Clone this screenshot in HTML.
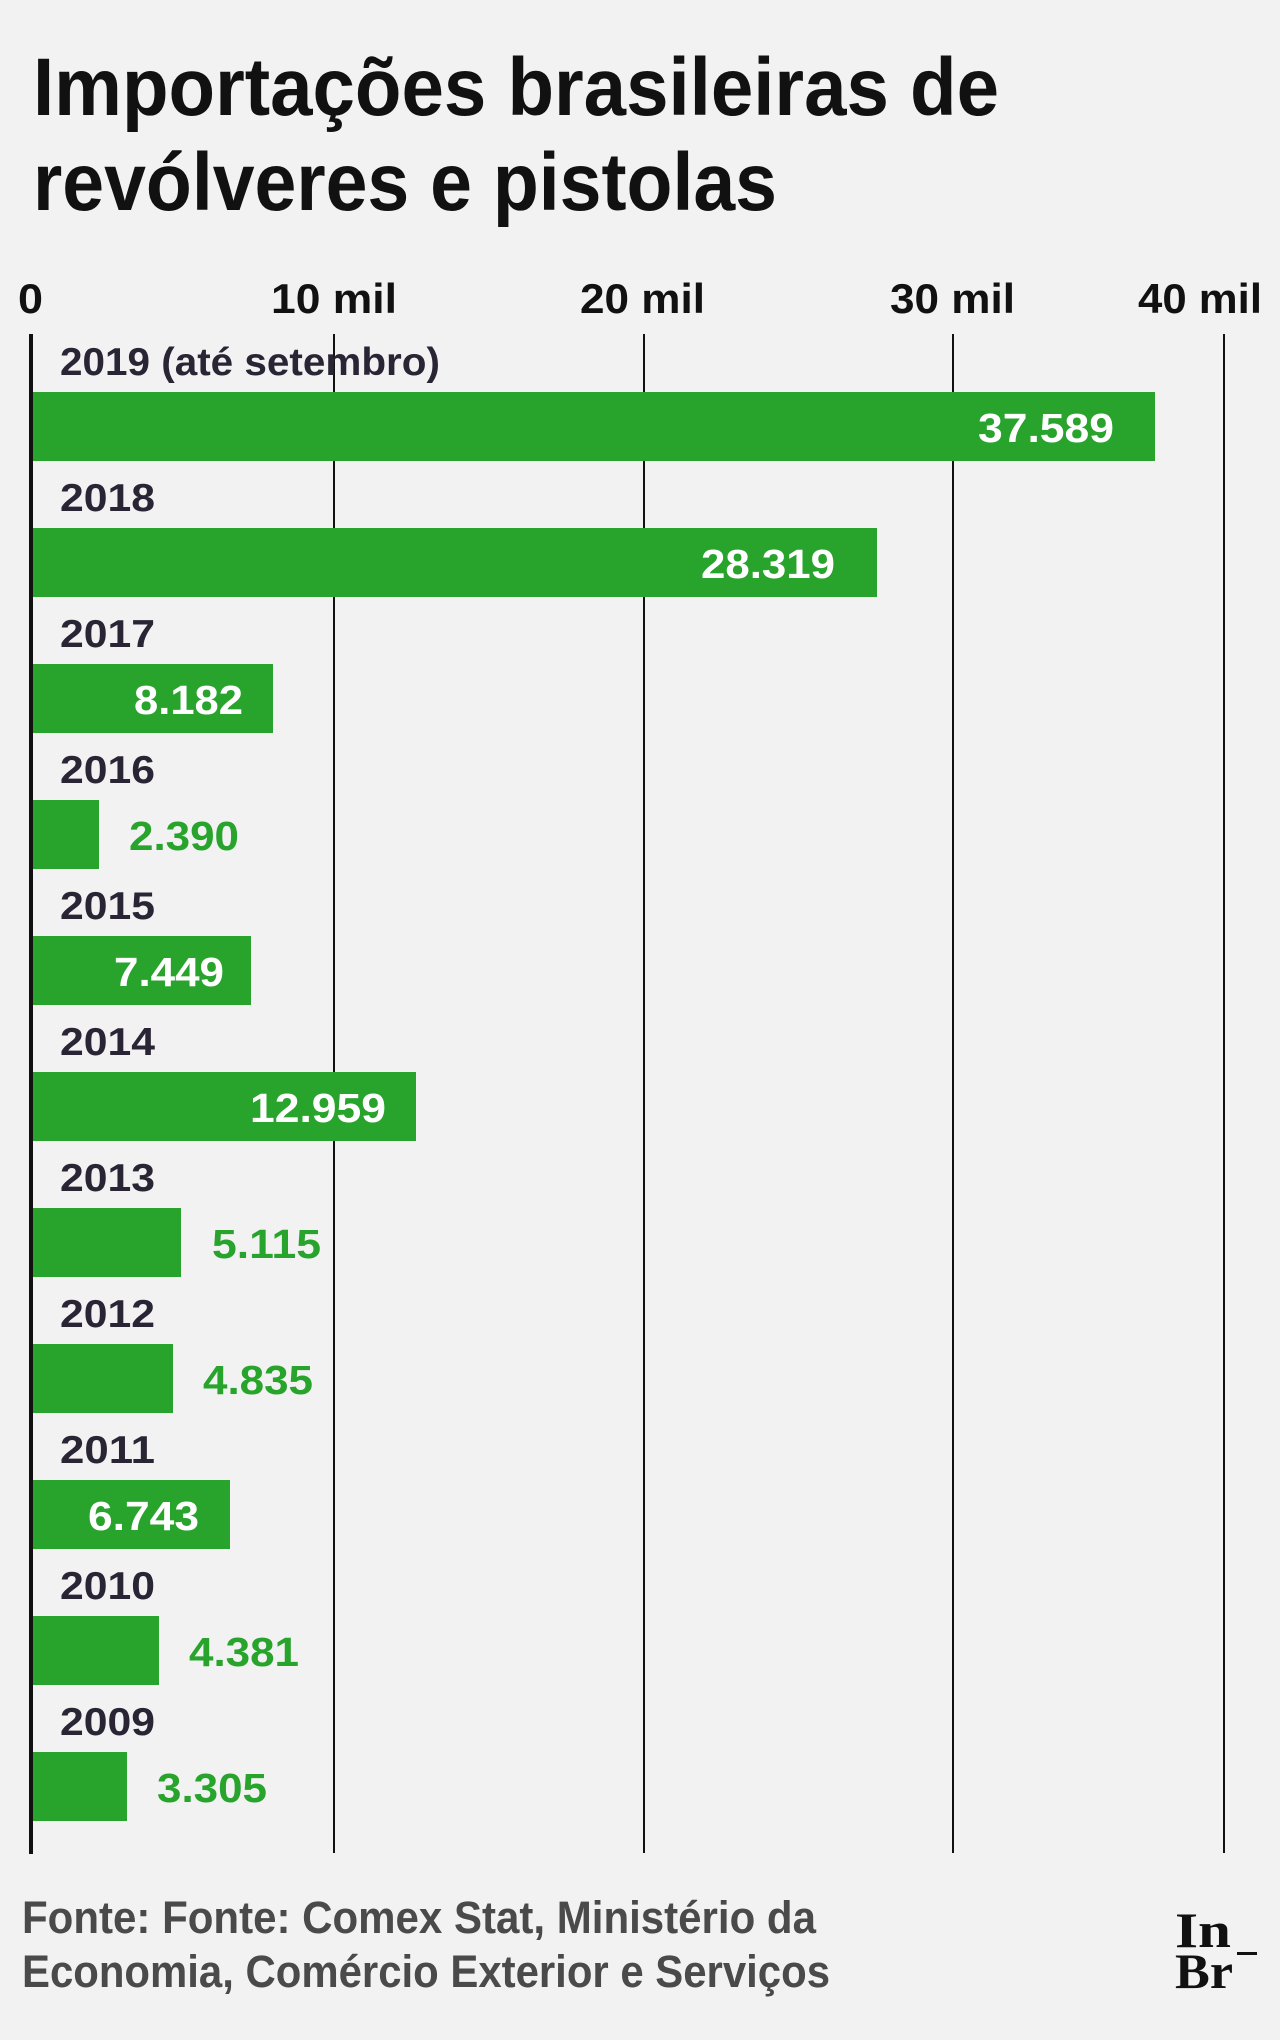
<!DOCTYPE html>
<html><head><meta charset="utf-8"><style>
html,body{margin:0;padding:0;background:#f2f2f2}
svg{display:block}
text{font-family:"Liberation Sans",sans-serif;font-weight:bold}
.m{font-family:"DejaVu Sans Mono","Liberation Mono",monospace;font-weight:bold}
</style></head><body>
<svg width="1280" height="2040" viewBox="0 0 1280 2040" xmlns="http://www.w3.org/2000/svg">
<rect width="1280" height="2040" fill="#f2f2f2"/>
<text x="33" y="115" font-size="82" fill="#111" textLength="966" lengthAdjust="spacingAndGlyphs">Importações brasileiras de</text>
<text x="33" y="210" font-size="82" fill="#111" textLength="744" lengthAdjust="spacingAndGlyphs">revólveres e pistolas</text>
<g font-size="42" fill="#111">
<text x="18" y="313" textLength="25" lengthAdjust="spacingAndGlyphs">0</text>
<text x="271" y="313" textLength="126" lengthAdjust="spacingAndGlyphs">10 mil</text>
<text x="580" y="313" textLength="125" lengthAdjust="spacingAndGlyphs">20 mil</text>
<text x="890" y="313" textLength="125" lengthAdjust="spacingAndGlyphs">30 mil</text>
<text x="1138" y="313" textLength="124" lengthAdjust="spacingAndGlyphs">40 mil</text>
</g>
<g stroke="#111" stroke-width="2">
<line x1="334" y1="334" x2="334" y2="1853"/>
<line x1="644" y1="334" x2="644" y2="1853"/>
<line x1="953" y1="334" x2="953" y2="1853"/>
<line x1="1224" y1="334" x2="1224" y2="1853"/>
</g>
<line x1="31" y1="334" x2="31" y2="1854" stroke="#111" stroke-width="4"/>
<g fill="#28a32c">
<rect x="33" y="392" width="1122" height="69"/>
<rect x="33" y="528" width="844" height="69"/>
<rect x="33" y="664" width="240" height="69"/>
<rect x="33" y="800" width="66" height="69"/>
<rect x="33" y="936" width="218" height="69"/>
<rect x="33" y="1072" width="383" height="69"/>
<rect x="33" y="1208" width="148" height="69"/>
<rect x="33" y="1344" width="140" height="69"/>
<rect x="33" y="1480" width="197" height="69"/>
<rect x="33" y="1616" width="126" height="69"/>
<rect x="33" y="1752" width="94" height="69"/>
</g>
<g font-size="39" fill="#2a2535">
<text x="60" y="375" textLength="380" lengthAdjust="spacingAndGlyphs">2019 (até setembro)</text>
<text x="60" y="511" textLength="95" lengthAdjust="spacingAndGlyphs">2018</text>
<text x="60" y="647" textLength="95" lengthAdjust="spacingAndGlyphs">2017</text>
<text x="60" y="783" textLength="95" lengthAdjust="spacingAndGlyphs">2016</text>
<text x="60" y="919" textLength="95" lengthAdjust="spacingAndGlyphs">2015</text>
<text x="60" y="1055" textLength="95" lengthAdjust="spacingAndGlyphs">2014</text>
<text x="60" y="1191" textLength="95" lengthAdjust="spacingAndGlyphs">2013</text>
<text x="60" y="1327" textLength="95" lengthAdjust="spacingAndGlyphs">2012</text>
<text x="60" y="1463" textLength="95" lengthAdjust="spacingAndGlyphs">2011</text>
<text x="60" y="1599" textLength="95" lengthAdjust="spacingAndGlyphs">2010</text>
<text x="60" y="1735" textLength="95" lengthAdjust="spacingAndGlyphs">2009</text>
</g>
<g font-size="41">
<text x="978" y="442" fill="#fff" textLength="136" lengthAdjust="spacingAndGlyphs">37.589</text>
<text x="701" y="578" fill="#fff" textLength="134" lengthAdjust="spacingAndGlyphs">28.319</text>
<text x="134" y="714" fill="#fff" textLength="109" lengthAdjust="spacingAndGlyphs">8.182</text>
<text x="129" y="850" fill="#28a32c" textLength="110" lengthAdjust="spacingAndGlyphs">2.390</text>
<text x="114" y="986" fill="#fff" textLength="110" lengthAdjust="spacingAndGlyphs">7.449</text>
<text x="250" y="1122" fill="#fff" textLength="136" lengthAdjust="spacingAndGlyphs">12.959</text>
<text x="212" y="1258" fill="#28a32c" textLength="109" lengthAdjust="spacingAndGlyphs">5.115</text>
<text x="203" y="1394" fill="#28a32c" textLength="110" lengthAdjust="spacingAndGlyphs">4.835</text>
<text x="88" y="1530" fill="#fff" textLength="111" lengthAdjust="spacingAndGlyphs">6.743</text>
<text x="189" y="1666" fill="#28a32c" textLength="110" lengthAdjust="spacingAndGlyphs">4.381</text>
<text x="157" y="1802" fill="#28a32c" textLength="110" lengthAdjust="spacingAndGlyphs">3.305</text>
</g>
<g font-size="45" fill="#4a4a4a">
<text x="22" y="1933" textLength="794" lengthAdjust="spacingAndGlyphs">Fonte: Fonte: Comex Stat, Ministério da</text>
<text x="22" y="1987" textLength="808" lengthAdjust="spacingAndGlyphs">Economia, Comércio Exterior e Serviços</text>
</g>
<g font-family="Liberation Serif,serif" font-size="50" fill="#111">
<text x="1175" y="1947" style="font-family:'Liberation Serif',serif" textLength="56" lengthAdjust="spacingAndGlyphs">In</text>
<text x="1175" y="1988" style="font-family:'Liberation Serif',serif" textLength="58" lengthAdjust="spacingAndGlyphs">Br</text>
</g>
<rect x="1237" y="1952" width="20" height="3" fill="#111"/>
</svg>
</body></html>
